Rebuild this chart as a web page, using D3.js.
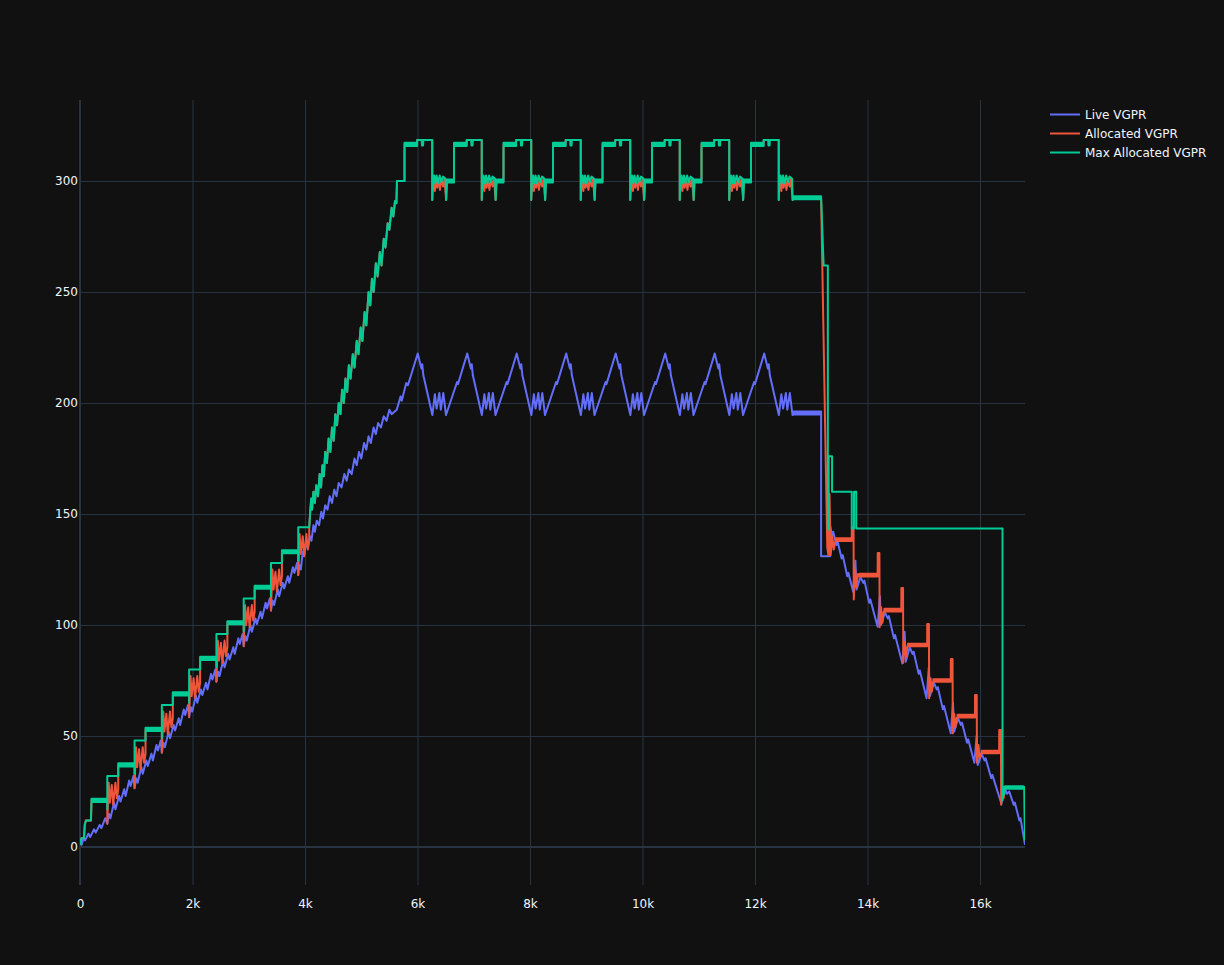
<!DOCTYPE html>
<html>
<head>
<meta charset="utf-8">
<script src="https://cdn.jsdelivr.net/npm/d3@7"></script>
<style>
  html, body { margin: 0; padding: 0; background: #111111; }
  svg { display: block; font-family: "DejaVu Sans", Verdana, sans-serif; }
</style>
</head>
<body>
<div id="chart"></div>
<script>
/* ─────────────────────────────────────────────────────────────
   VGPR usage over instructions – three step/line traces
   (dark theme, legend on the right)
───────────────────────────────────────────────────────────── */

// ── Axis ticks ───────────────────────────────────────────────
const X_TICKS = [0, 2000, 4000, 6000, 8000, 10000, 12000, 14000, 16000];
const Y_TICKS = [0, 50, 100, 150, 200, 250, 300];
const X_DOMAIN = [0, 16800];
const Y_DOMAIN = [-17.1, 336.5];

// ── Live VGPR ([instruction, vgpr]) ──────────────────────────
const liveRise = [
  [0,2],[30,1],[60,4],[90,3],[150,6],[180,4.5],[250,8],[280,6.5],[350,10],[380,8.5],[450,13],[485,10.5],
  [515,15],[540,13],[605,20],[630,17],[695,23],[720,20.5],[785,26],[810,23],[875,30],[900,27.5],[950,32],[970,26.5],
  [1000,31],[1025,29],[1090,36],[1115,33],[1180,39],[1205,36.5],[1270,42],[1295,39],[1360,46],[1385,43.5],[1435,48],[1455,42.5],
  [1485,47],[1510,45],[1575,52],[1600,49],[1665,55],[1690,52.5],[1755,58],[1780,55],[1845,62],[1870,59.5],[1920,64],[1940,58.5],
  [1970,63],[1995,61],[2060,68],[2085,65],[2150,71],[2175,68.5],[2240,74],[2265,71],[2330,78],[2355,75.5],[2405,80],[2425,74.5],
  [2455,79],[2480,77],[2545,84],[2570,81],[2635,87],[2660,84.5],[2725,90],[2750,87],[2815,94],[2840,91.5],[2890,96],[2910,90.5],
  [2940,95],[2965,93],[3030,100],[3055,97],[3120,103],[3145,100.5],[3210,106],[3235,103],[3300,110],[3325,107.5],[3375,112],[3395,106.5],
  [3425,111],[3450,109],[3515,116],[3540,113],[3605,119],[3630,116.5],[3695,122],[3720,119],[3785,126],[3810,123.5],[3860,128],[3880,122.5]
];
const liveClimb = [
  [3900,127],[3925,125],[3960,133],[3985,131],[4020,137],[4050,135],[4090,140],[4115,138],[4150,145],[4175,142],
  [4210,147],[4250,145],[4290,151],[4320,148],[4360,154],[4400,152],[4440,158],[4480,155],[4520,161],[4560,158],
  [4600,164],[4650,162],[4700,168],[4740,165],[4780,170],[4830,168],[4880,175],[4920,172],[4960,178],[5000,175],
  [5050,182],[5090,179],[5130,185],[5170,182],[5220,189],[5260,186],[5300,191],[5350,189],[5400,194],[5450,192],
  [5500,197],[5540,195],[5631,197],[5700,203],[5720,201],[5800,209],[5830,208]
];
const livePlateau = [
  [6004,222.3],[6069,215.5],[6084,217.5],[6104,212.5],[6264,194.6],[6309,204],[6339,197.5],[6389,204.5],[6414,197],[6459,204.5],[6507,194.6],[6704,209.5],[6719,208.5],
  [6884,222.3],[6949,215.5],[6964,217.5],[6984,212.5],[7144,194.6],[7189,204],[7219,197.5],[7269,204.5],[7294,197],[7339,204.5],[7387,194.6],[7584,209.5],[7599,208.5],
  [7764,222.3],[7829,215.5],[7844,217.5],[7864,212.5],[8024,194.6],[8069,204],[8099,197.5],[8149,204.5],[8174,197],[8219,204.5],[8267,194.6],[8464,209.5],[8479,208.5],
  [8644,222.3],[8709,215.5],[8724,217.5],[8744,212.5],[8904,194.6],[8949,204],[8979,197.5],[9029,204.5],[9054,197],[9099,204.5],[9147,194.6],[9344,209.5],[9359,208.5],
  [9524,222.3],[9589,215.5],[9604,217.5],[9624,212.5],[9784,194.6],[9829,204],[9859,197.5],[9909,204.5],[9934,197],[9979,204.5],[10027,194.6],[10224,209.5],[10239,208.5],
  [10404,222.3],[10469,215.5],[10484,217.5],[10504,212.5],[10664,194.6],[10709,204],[10739,197.5],[10789,204.5],[10814,197],[10859,204.5],[10907,194.6],[11104,209.5],[11119,208.5],
  [11284,222.3],[11349,215.5],[11364,217.5],[11384,212.5],[11544,194.6],[11589,204],[11619,197.5],[11669,204.5],[11694,197],[11739,204.5],[11787,194.6],[11984,209.5],[11999,208.5],
  [12164,222.3],[12229,215.5],[12244,217.5],[12264,212.5],[12424,194.6],[12469,204],[12499,197.5],[12549,204.5],[12574,197],[12619,204.5],[12667,194.6],
  [12680,194.8],[13175,194.8],[13175,195.5],[12680,195.5],[12680,196.2],[13175,196.2]
];
const liveFall = [
  [13175,131],[13335,131],[13335,145],[13370,140],[13390,142],[13450,136],[13470,137.5],[13540,130],[13560,131.5],[13640,122],[13660,123.5],[13745,115],
  [13785,129],[13805,116],[13875,121.5],[13925,119],[13945,120],[14030,110],[14050,111.5],[14180,99.2],
  [14220,113],[14240,100],[14310,105.7],[14360,103],[14380,104],[14470,94],[14490,95.5],[14620,82.7],
  [14660,97],[14680,83.5],[14750,90],[14800,87],[14820,88],[14910,78],[14930,79.5],[15050,67],
  [15090,81],[15110,68],[15180,74],[15230,71],[15250,72],[15340,62],[15360,63.5],[15480,51.2],
  [15520,65],[15540,52],[15610,58],[15660,55],[15680,56],[15770,47],[15790,48.5],[15900,38],
  [15940,50],[15960,37],[16030,41.8],[16080,39],[16100,40],[16200,31],[16220,32.5],[16380,19.5],
  [16400,23],[16430,27],[16480,24],[16520,25],[16600,19],[16620,20],[16700,12],[16720,13],[16800,1]
];

// ── Allocated VGPR ───────────────────────────────────────────
const allocRise = [
  [0,1],[25,4],[70,4],[85,10],[105,12],[195,12],[204,21],[485,21],
  [485,10.5],[510,29],[530,20],[565,28],[590,19],[630,29],[655,22],[680,26],[680,37],[970,37],
  [970,26.5],[995,45],[1015,36],[1050,44],[1075,35],[1115,45],[1140,38],[1165,42],[1165,53],[1455,53],
  [1455,42.5],[1480,61],[1500,52],[1535,60],[1560,51],[1600,61],[1625,54],[1650,58],[1650,69],[1940,69],
  [1940,58.5],[1965,77],[1985,68],[2020,76],[2045,67],[2085,77],[2110,70],[2135,74],[2135,85],[2425,85],
  [2425,74.5],[2450,93],[2470,84],[2505,92],[2530,83],[2570,93],[2595,86],[2620,90],[2620,101],[2910,101],
  [2910,90.5],[2935,109],[2955,100],[2990,108],[3015,99],[3055,109],[3080,102],[3105,106],[3105,117],[3395,117],
  [3395,106.5],[3420,125],[3440,116],[3475,124],[3500,115],[3540,125],[3565,118],[3590,122],[3590,133],[3880,133],
  [3880,122.5],[3905,141],[3925,132],[3960,140],[3985,131],[4025,141],[4050,134],[4075,138]
];
const allocPlateau = [
  [5769,316.5],[5994,316.5],[5994,318.5],[6262,318.5],[6262,291.5],[6274,298],[6294,301],[6309,295.5],[6324,301],[6349,297],[6369,301],[6399,296],[6424,301],[6454,297.5],[6479,301],[6509,291.5],[6524,300],[6649,300],
  [6649,316.5],[6874,316.5],[6874,318.5],[7142,318.5],[7142,291.5],[7154,298],[7174,301],[7189,295.5],[7204,301],[7229,297],[7249,301],[7279,296],[7304,301],[7334,297.5],[7359,301],[7389,291.5],[7404,300],[7529,300],
  [7529,316.5],[7754,316.5],[7754,318.5],[8022,318.5],[8022,291.5],[8034,298],[8054,301],[8069,295.5],[8084,301],[8109,297],[8129,301],[8159,296],[8184,301],[8214,297.5],[8239,301],[8269,291.5],[8284,300],[8409,300],
  [8409,316.5],[8634,316.5],[8634,318.5],[8902,318.5],[8902,291.5],[8914,298],[8934,301],[8949,295.5],[8964,301],[8989,297],[9009,301],[9039,296],[9064,301],[9094,297.5],[9119,301],[9149,291.5],[9164,300],[9289,300],
  [9289,316.5],[9514,316.5],[9514,318.5],[9782,318.5],[9782,291.5],[9794,298],[9814,301],[9829,295.5],[9844,301],[9869,297],[9889,301],[9919,296],[9944,301],[9974,297.5],[9999,301],[10029,291.5],[10044,300],[10169,300],
  [10169,316.5],[10394,316.5],[10394,318.5],[10662,318.5],[10662,291.5],[10674,298],[10694,301],[10709,295.5],[10724,301],[10749,297],[10769,301],[10799,296],[10824,301],[10854,297.5],[10879,301],[10909,291.5],[10924,300],[11049,300],
  [11049,316.5],[11274,316.5],[11274,318.5],[11542,318.5],[11542,291.5],[11554,298],[11574,301],[11589,295.5],[11604,301],[11629,297],[11649,301],[11679,296],[11704,301],[11734,297.5],[11759,301],[11789,291.5],[11804,300],[11929,300],
  [11929,316.5],[12154,316.5],[12154,318.5],[12422,318.5],[12422,291.5],[12434,298],[12454,301],[12469,295.5],[12484,301],[12509,297],[12529,301],[12559,296],[12584,301],[12614,297.5],[12639,301],[12669,291.5],[12684,292.5],[13175,292.5]
];
const allocFall = [
  [13285,135],[13305,131.5],[13325,159],[13345,131.5],[13375,140],[13400,134],
  [13430,137.9],[13720,137.9],[13720,138.5],[13430,138.5],[13430,139.1],[13720,139.1],
  [13722,144],[13752,144],[13756,111.5],[13782,125],[13802,117],[13830,123],
  [13860,121.9],[14180,121.9],[14180,122.5],[13860,122.5],[13860,123.1],[14180,123.1],
  [14182,132.4],[14212,132.4],[14216,99],[14242,108],[14264,101],[14290,106.1],
  [14300,106.1],[14600,106.1],[14600,106.7],[14300,106.7],[14300,107.3],[14600,107.3],
  [14602,116.7],[14632,116.7],[14636,83],[14662,92.4],[14684,85.7],[14710,90.4],
  [14720,90.4],[15060,90.4],[15060,91],[14720,91],[14720,91.6],[15060,91.6],
  [15062,100.5],[15092,100.5],[15096,67],[15122,76],[15144,70],[15165,74.4],
  [15170,74.4],[15480,74.4],[15480,75],[15170,75],[15170,75.6],[15480,75.6],
  [15482,84.7],[15512,84.7],[15516,51.2],[15542,60],[15564,54],[15590,58.4],
  [15600,58.4],[15910,58.4],[15910,59],[15600,59],[15600,59.6],[15910,59.6],
  [15912,68.5],[15942,68.5],[15946,38],[15972,46],[15994,40],[16020,42.2],
  [16030,42.2],[16340,42.2],[16340,42.8],[16030,42.8],[16030,43.4],[16340,43.4],
  [16342,52.7],[16372,52.7],[16376,19],[16400,25],[16420,22],[16445,27],[16790,27],[16800,3]
];

// ── Max Allocated VGPR ───────────────────────────────────────
const maxRise = [
  [0,1],[25,4],[70,4],[85,10],[105,12],[195,12],
  [204,20.3],[485,20.3],[485,21],[204,21],[204,21.7],[485,21.7],[485,17],[485,32],[680,32],
  [680,36.3],[970,36.3],[970,37],[680,37],[680,37.7],[970,37.7],[970,33],[970,48],[1165,48],
  [1165,52.3],[1455,52.3],[1455,53],[1165,53],[1165,53.7],[1455,53.7],[1455,49],[1455,64],[1650,64],
  [1650,68.3],[1940,68.3],[1940,69],[1650,69],[1650,69.7],[1940,69.7],[1940,65],[1940,80],[2135,80],
  [2135,84.3],[2425,84.3],[2425,85],[2135,85],[2135,85.7],[2425,85.7],[2425,81],[2425,96],[2620,96],
  [2620,100.3],[2910,100.3],[2910,101],[2620,101],[2620,101.7],[2910,101.7],[2910,97],[2910,112],[3105,112],
  [3105,116.3],[3395,116.3],[3395,117],[3105,117],[3105,117.7],[3395,117.7],[3395,113],[3395,128],[3590,128],
  [3590,132.3],[3880,132.3],[3880,133],[3590,133],[3590,133.7],[3880,133.7],[3880,129],[3880,144]
];
const maxClimb = [
  [4075,144],[4090,150],[4110,157],[4125,152],[4150,160],[4175,155],[4200,163],[4230,158],[4260,168],[4285,162],
  [4310,172],[4335,167],[4360,178],[4390,173],[4420,184],[4450,178],[4480,189],[4510,183],[4540,195],[4570,190],
  [4600,200],[4630,195],[4660,206],[4690,200],[4720,211],[4750,205],[4780,217],[4810,211],[4850,222],[4880,216],
  [4920,228],[4950,222],[4990,234],[5020,228],[5060,241],[5090,235],[5130,250],[5160,244],[5190,256],[5220,250],
  [5260,263],[5290,257],[5330,268],[5360,262],[5400,274],[5430,270],[5470,281],[5500,278],[5540,288],[5570,284],
  [5600,291],[5625,290],[5635,300],[5769,300]
];
const maxPlateau = [
  [5769,315.8],[5994,315.8],[5994,316.5],[5769,316.5],[5769,317.2],[5994,317.2],[5994,318.5],[6074,318.5],[6079,316],[6099,316],[6104,318.5],[6262,318.5],[6262,291.5],[6274,301],[6294,302.5],[6314,299],[6339,302.5],[6364,299],[6394,302.5],[6424,299.5],[6454,302],[6499,301],[6509,291.5],[6524,299.3],[6649,299.3],[6649,300],[6524,300],[6524,300.7],[6649,300.7],
  [6649,315.8],[6874,315.8],[6874,316.5],[6649,316.5],[6649,317.2],[6874,317.2],[6874,318.5],[6954,318.5],[6959,316],[6979,316],[6984,318.5],[7142,318.5],[7142,291.5],[7154,301],[7174,302.5],[7194,299],[7219,302.5],[7244,299],[7274,302.5],[7304,299.5],[7334,302],[7379,301],[7389,291.5],[7404,299.3],[7529,299.3],[7529,300],[7404,300],[7404,300.7],[7529,300.7],
  [7529,315.8],[7754,315.8],[7754,316.5],[7529,316.5],[7529,317.2],[7754,317.2],[7754,318.5],[7834,318.5],[7839,316],[7859,316],[7864,318.5],[8022,318.5],[8022,291.5],[8034,301],[8054,302.5],[8074,299],[8099,302.5],[8124,299],[8154,302.5],[8184,299.5],[8214,302],[8259,301],[8269,291.5],[8284,299.3],[8409,299.3],[8409,300],[8284,300],[8284,300.7],[8409,300.7],
  [8409,315.8],[8634,315.8],[8634,316.5],[8409,316.5],[8409,317.2],[8634,317.2],[8634,318.5],[8714,318.5],[8719,316],[8739,316],[8744,318.5],[8902,318.5],[8902,291.5],[8914,301],[8934,302.5],[8954,299],[8979,302.5],[9004,299],[9034,302.5],[9064,299.5],[9094,302],[9139,301],[9149,291.5],[9164,299.3],[9289,299.3],[9289,300],[9164,300],[9164,300.7],[9289,300.7],
  [9289,315.8],[9514,315.8],[9514,316.5],[9289,316.5],[9289,317.2],[9514,317.2],[9514,318.5],[9594,318.5],[9599,316],[9619,316],[9624,318.5],[9782,318.5],[9782,291.5],[9794,301],[9814,302.5],[9834,299],[9859,302.5],[9884,299],[9914,302.5],[9944,299.5],[9974,302],[10019,301],[10029,291.5],[10044,299.3],[10169,299.3],[10169,300],[10044,300],[10044,300.7],[10169,300.7],
  [10169,315.8],[10394,315.8],[10394,316.5],[10169,316.5],[10169,317.2],[10394,317.2],[10394,318.5],[10474,318.5],[10479,316],[10499,316],[10504,318.5],[10662,318.5],[10662,291.5],[10674,301],[10694,302.5],[10714,299],[10739,302.5],[10764,299],[10794,302.5],[10824,299.5],[10854,302],[10899,301],[10909,291.5],[10924,299.3],[11049,299.3],[11049,300],[10924,300],[10924,300.7],[11049,300.7],
  [11049,315.8],[11274,315.8],[11274,316.5],[11049,316.5],[11049,317.2],[11274,317.2],[11274,318.5],[11354,318.5],[11359,316],[11379,316],[11384,318.5],[11542,318.5],[11542,291.5],[11554,301],[11574,302.5],[11594,299],[11619,302.5],[11644,299],[11674,302.5],[11704,299.5],[11734,302],[11779,301],[11789,291.5],[11804,299.3],[11929,299.3],[11929,300],[11804,300],[11804,300.7],[11929,300.7],
  [11929,315.8],[12154,315.8],[12154,316.5],[11929,316.5],[11929,317.2],[12154,317.2],[12154,318.5],[12234,318.5],[12239,316],[12259,316],[12264,318.5],[12422,318.5],[12422,291.5],[12434,301],[12454,302.5],[12474,299],[12499,302.5],[12524,299],[12554,302.5],[12584,299.5],[12614,302],[12659,301],[12669,291.5],
  [12684,291.8],[13175,291.8],[13175,292.5],[12684,292.5],[12684,293.2],[13175,293.2]
];
const maxFall = [
  [13220,262],[13295,262],[13295,143],[13310,143],[13310,176],[13370,176],[13370,160],[13720,160],
  [13720,143.5],[13760,143.5],[13760,160],[13800,160],[13800,143.5],[16400,143.5],
  [16400,21],[16415,27],[16430,23.5],[16445,26.2],[16770,26.2],[16770,26.8],[16445,26.8],[16445,27.4],[16770,27.4],[16790,27],[16800,3]
];

// ── Series (drawn in this order, last on top) ─────────────────
const SERIES = [
  { name: "Live VGPR",          color: "#636efa", points: liveRise.concat(liveClimb, livePlateau, liveFall) },
  { name: "Allocated VGPR",     color: "#EF553B", points: allocRise.concat(maxClimb, allocPlateau, allocFall) },
  { name: "Max Allocated VGPR", color: "#00cc96", points: maxRise.concat(maxClimb, maxPlateau, maxFall) }
];

// ── Chart dimensions ─────────────────────────────────────────
const WIDTH = 1224, HEIGHT = 965;
const MARGIN = { top: 100, right: 199, bottom: 80, left: 80 };
const PW = WIDTH - MARGIN.left - MARGIN.right;
const PH = HEIGHT - MARGIN.top - MARGIN.bottom;
const GRID = "#283442";
const TEXT = "#f2f5fa";
const FONT = '"DejaVu Sans", Verdana, sans-serif';

const svg = d3.select("#chart").append("svg")
  .attr("width", WIDTH).attr("height", HEIGHT);

svg.append("rect").attr("width", WIDTH).attr("height", HEIGHT).attr("fill", "#111111");

const xScale = d3.scaleLinear().domain(X_DOMAIN).range([MARGIN.left, MARGIN.left + PW]);
const yScale = d3.scaleLinear().domain(Y_DOMAIN).range([MARGIN.top + PH, MARGIN.top]);

// ── Gridlines ────────────────────────────────────────────────
const gridG = svg.append("g");
gridG.append("g")
  .attr("transform", `translate(0,${MARGIN.top + PH})`)
  .call(d3.axisBottom(xScale).tickValues(X_TICKS.filter(d => d !== 0)).tickSize(-PH).tickFormat(""))
  .call(g => g.select(".domain").remove())
  .call(g => g.selectAll("line").attr("stroke", GRID).attr("stroke-width", 1));
gridG.append("g")
  .attr("transform", `translate(${MARGIN.left},0)`)
  .call(d3.axisLeft(yScale).tickValues(Y_TICKS.filter(d => d !== 0)).tickSize(-PW).tickFormat(""))
  .call(g => g.select(".domain").remove())
  .call(g => g.selectAll("line").attr("stroke", GRID).attr("stroke-width", 1));

// zero lines
gridG.append("line")
  .attr("x1", MARGIN.left).attr("x2", MARGIN.left + PW)
  .attr("y1", yScale(0)).attr("y2", yScale(0))
  .attr("stroke", GRID).attr("stroke-width", 2);
gridG.append("line")
  .attr("x1", xScale(0)).attr("x2", xScale(0))
  .attr("y1", MARGIN.top).attr("y2", MARGIN.top + PH)
  .attr("stroke", GRID).attr("stroke-width", 2);

// ── Tick labels ──────────────────────────────────────────────
const fmtK = d3.format("~s");
svg.append("g")
  .attr("transform", `translate(0,${MARGIN.top + PH})`)
  .call(d3.axisBottom(xScale).tickValues(X_TICKS).tickSize(0).tickPadding(14).tickFormat(d => d === 0 ? "0" : fmtK(d)))
  .call(g => g.select(".domain").remove())
  .call(g => g.selectAll("text").attr("fill", TEXT).style("font-size", "12px").style("font-family", FONT));

svg.append("g")
  .attr("transform", `translate(${MARGIN.left},0)`)
  .call(d3.axisLeft(yScale).tickValues(Y_TICKS).tickSize(0).tickPadding(2))
  .call(g => g.select(".domain").remove())
  .call(g => g.selectAll("text").attr("fill", TEXT).style("font-size", "12px").style("font-family", FONT));

// ── Lines ────────────────────────────────────────────────────
svg.append("defs").append("clipPath").attr("id", "plot-clip")
  .append("rect")
  .attr("x", MARGIN.left).attr("y", MARGIN.top)
  .attr("width", PW).attr("height", PH);

const lineGen = d3.line()
  .x(d => xScale(d[0]))
  .y(d => yScale(d[1]));

svg.append("g").attr("clip-path", "url(#plot-clip)")
  .selectAll("path")
  .data(SERIES)
  .join("path")
  .attr("d", d => lineGen(d.points))
  .attr("fill", "none")
  .attr("stroke", d => d.color)
  .attr("stroke-width", 2)
  .attr("stroke-linejoin", "round");

// ── Legend ───────────────────────────────────────────────────
const legend = svg.append("g").attr("transform", "translate(1050,114.5)");
const item = legend.selectAll("g")
  .data(SERIES)
  .join("g")
  .attr("transform", (d, i) => `translate(0,${i * 19})`);
item.append("line")
  .attr("x1", 0).attr("x2", 30)
  .attr("stroke", d => d.color).attr("stroke-width", 2);
item.append("text")
  .attr("x", 35).attr("y", 4.3)
  .attr("fill", TEXT)
  .style("font-size", "12px")
  .style("font-family", FONT)
  .text(d => d.name);
</script>
</body>
</html>
